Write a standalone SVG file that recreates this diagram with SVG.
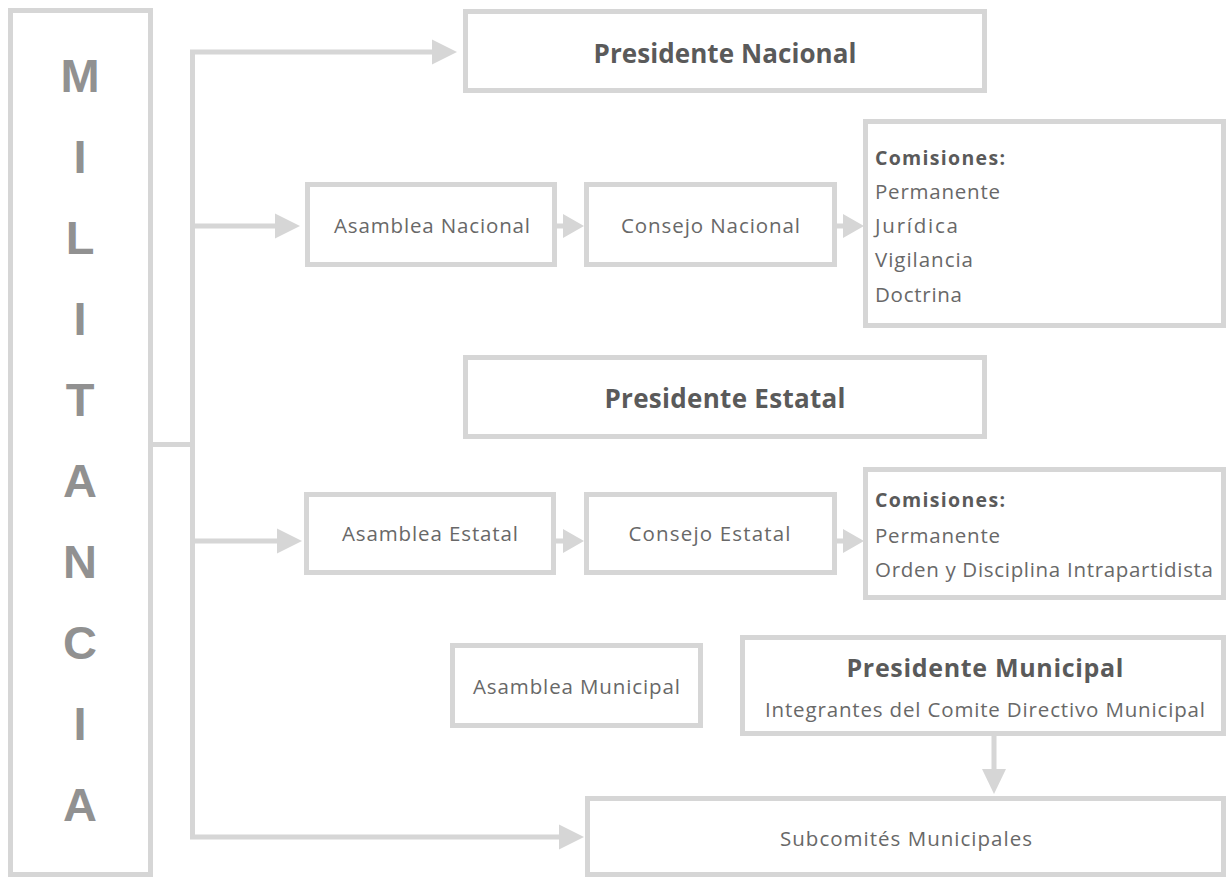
<svg xmlns="http://www.w3.org/2000/svg" width="1226" height="878" viewBox="0 0 1226 878">
<style>
.box{fill:#ffffff;stroke:#d6d6d6;stroke-width:5}
.ln{fill:none;stroke:#d6d6d6;stroke-width:5}
.hd{fill:#d6d6d6}
.t{font-family:"Open Sans","Liberation Sans",sans-serif;font-size:20.5px;fill:#686868}
.b{font-family:"Open Sans","Liberation Sans",sans-serif;font-weight:bold;fill:#5a5a5a}
.m{font-family:"Liberation Sans","Open Sans",sans-serif;font-weight:bold;font-size:47px;fill:#919191;text-anchor:middle}
.c{text-anchor:middle}
</style>
<rect width="1226" height="878" fill="#ffffff"/>
<g id="connectors">
<path class="ln" d="M153,444.5 H192.5 M434,52 H192.5 V837 H561 M192.5,226 H277 M192.5,541 H279 M557,226 H565 M837,226 H845 M556,541 H564 M837,541 H845 M994,736 V771"/>
<polygon class="hd" points="432,39.5 457,52 432,64.5"/>
<polygon class="hd" points="275,213.5 300,226 275,238.5"/>
<polygon class="hd" points="277,528.5 302,541 277,553.5"/>
<polygon class="hd" points="559,824.5 584,837 559,849.5"/>
<polygon class="hd" points="563,214 584,226 563,238"/>
<polygon class="hd" points="843,214 864,226 843,238"/>
<polygon class="hd" points="563,529 584,541 563,553"/>
<polygon class="hd" points="843,529 864,541 843,553"/>
<polygon class="hd" points="982,769 1006,769 994,794"/>
</g>
<g id="militancia">
<rect class="box" x="10.5" y="10.5" width="140" height="864"/>
<text class="m" x="80" y="92">M</text>
<text class="m" x="80" y="173">I</text>
<text class="m" x="80" y="254">L</text>
<text class="m" x="80" y="335">I</text>
<text class="m" x="80" y="416">T</text>
<text class="m" x="80" y="497">A</text>
<text class="m" x="80" y="578">N</text>
<text class="m" x="80" y="659">C</text>
<text class="m" x="80" y="740">I</text>
<text class="m" x="80" y="821">A</text>
</g>
<g id="presidente-nacional">
<rect class="box" x="465.5" y="11.5" width="519" height="79"/>
<text class="b c" x="725" y="63" font-size="26" textLength="263">Presidente Nacional</text>
</g>
<g id="asamblea-nacional">
<rect class="box" x="307.5" y="184.5" width="247" height="80"/>
<text class="t c" x="432" y="233" textLength="196">Asamblea Nacional</text>
</g>
<g id="consejo-nacional">
<rect class="box" x="586.5" y="184.5" width="248" height="80"/>
<text class="t c" x="710.5" y="233" textLength="179">Consejo Nacional</text>
</g>
<g id="comisiones-nacional">
<rect class="box" x="865.5" y="121.5" width="358" height="204"/>
<text class="b" x="875" y="165" font-size="19.5" textLength="130">Comisiones:</text>
<text class="t" x="875" y="199" textLength="125">Permanente</text>
<text class="t" x="875" y="233" textLength="83">Jurídica</text>
<text class="t" x="875" y="267" textLength="98">Vigilancia</text>
<text class="t" x="875" y="302" textLength="87">Doctrina</text>
</g>
<g id="presidente-estatal">
<rect class="box" x="465.5" y="357.5" width="519" height="79"/>
<text class="b c" x="725" y="408" font-size="26" textLength="241">Presidente Estatal</text>
</g>
<g id="asamblea-estatal">
<rect class="box" x="306.5" y="494.5" width="247" height="78"/>
<text class="t c" x="430" y="541" textLength="176">Asamblea Estatal</text>
</g>
<g id="consejo-estatal">
<rect class="box" x="586.5" y="494.5" width="248" height="78"/>
<text class="t c" x="709.5" y="541" textLength="162">Consejo Estatal</text>
</g>
<g id="comisiones-estatal">
<rect class="box" x="865.5" y="469.5" width="358" height="128"/>
<text class="b" x="875" y="507" font-size="19.5" textLength="130">Comisiones:</text>
<text class="t" x="875" y="543" textLength="125">Permanente</text>
<text class="t" x="875" y="577" textLength="338">Orden y Disciplina Intrapartidista</text>
</g>
<g id="asamblea-municipal">
<rect class="box" x="452.5" y="645.5" width="248" height="80"/>
<text class="t c" x="576.5" y="694" textLength="207">Asamblea Municipal</text>
</g>
<g id="presidente-municipal">
<rect class="box" x="742.5" y="637.5" width="481" height="96"/>
<text class="b c" x="985" y="677" font-size="25" textLength="277">Presidente Municipal</text>
<text class="t c" x="985" y="717" textLength="440">Integrantes del Comite Directivo Municipal</text>
</g>
<g id="subcomites-municipales">
<rect class="box" x="587.5" y="798.5" width="636" height="76"/>
<text class="t c" x="906" y="846" textLength="252">Subcomités Municipales</text>
</g>
</svg>
